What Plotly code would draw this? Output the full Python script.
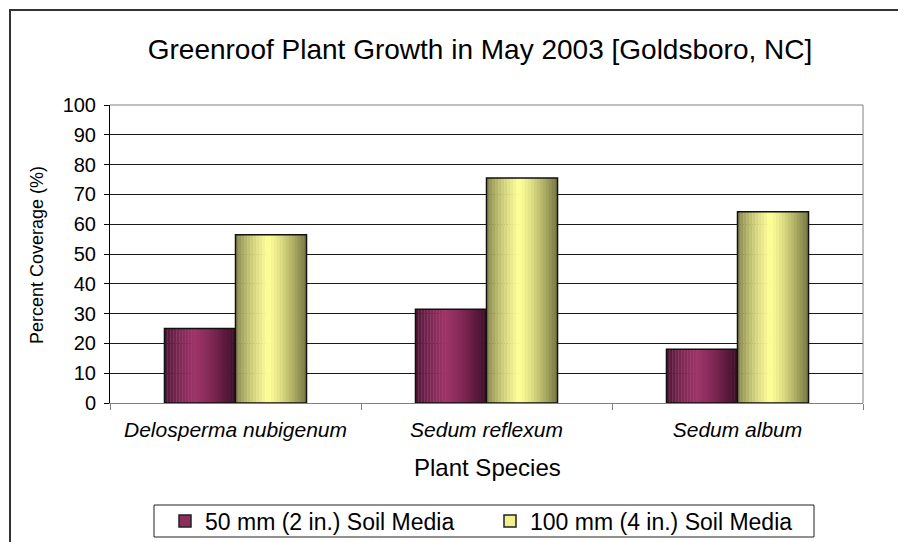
import plotly.graph_objects as go

categories = ["Delosperma nubigenum", "Sedum reflexum", "Sedum album"]
series_names = ["50 mm (2 in.) Soil Media", "100 mm (4 in.) Soil Media"]
values_50mm = [25, 31.5, 18]
values_100mm = [56.5, 75.5, 64.2]
y_ticks = list(range(0, 101, 10))

FONT = "Liberation Sans, Arial, sans-serif"

# page offset (browser body margin) -> work in reference pixel coords
OFF = 8
W, H = 906 - OFF, 542 - OFF
PL, PR, PT, PB = 110, 863, 105, 403       # plot area in reference px
L, R, T, B = PL - OFF, W - (PR - OFF), PT - OFF, H - (PB - OFF)
PW, PH = PR - PL, PB - PT

def px_x(p):
    return (p - PL) / PW

def px_y(p):
    return (PB - p) / PH

def lerp(c1, c2, t):
    return "rgb(%d,%d,%d)" % tuple(round(a + (b - a) * t) for a, b in zip(c1, c2))

def shade(dark_l, light, dark_r, peak, t):
    if t <= peak:
        u = (t / peak) ** 0.7
        return lerp(dark_l, light, u)
    u = ((t - peak) / (1 - peak)) ** 1.3
    return lerp(light, dark_r, u)

styles = [
    dict(dark_l=(70, 20, 48), light=(158, 52, 104), dark_r=(60, 14, 40), peak=0.42, mid="#8e2d5c"),
    dict(dark_l=(120, 120, 68), light=(255, 255, 153), dark_r=(116, 116, 64), peak=0.45, mid="#f0f090"),
]

bar_w = 0.283
offsets = [-bar_w, 0.0]
N = 24

fig = go.Figure()
for s, (name, vals) in enumerate(zip(series_names, [values_50mm, values_100mm])):
    st = styles[s]
    for k in range(N):
        t = (k + 0.5) / N
        fig.add_trace(go.Bar(
            x=categories, y=vals,
            offset=offsets[s] + k * bar_w / N, width=bar_w / N + 0.0015,
            marker=dict(color=shade(st["dark_l"], st["light"], st["dark_r"], st["peak"], t),
                        line=dict(width=0)),
            showlegend=False, hoverinfo="skip",
        ))
    fig.add_trace(go.Bar(
        x=categories, y=vals, offset=offsets[s], width=bar_w,
        marker=dict(color="rgba(0,0,0,0)", line=dict(color="#111111", width=1.5)),
        showlegend=False, name=name,
    ))
    fig.add_trace(go.Bar(
        x=categories, y=[None] * len(categories), name=name,
        marker=dict(color=st["mid"], line=dict(color="#222222", width=1.5)),
        showlegend=True,
    ))

fig.update_layout(
    width=W, height=H,
    margin=dict(l=L, r=R, t=T, b=B, autoexpand=False),
    paper_bgcolor="white", plot_bgcolor="white",
    barmode="overlay",
    font=dict(family=FONT, color="black", size=20),
    title=dict(text="Greenroof Plant Growth in May 2003 [Goldsboro, NC]",
               x=px_x(480), xref="paper", xanchor="center",
               y=1 - (49 - OFF) / H, yref="container", yanchor="middle",
               font=dict(family=FONT, size=28, color="black")),
    xaxis=dict(
        type="category", categoryorder="array", categoryarray=categories,
        range=[-0.5, 2.5], showgrid=False, zeroline=False,
        showline=True, linecolor="#808080", linewidth=1,
        ticks="outside", tickson="boundaries", ticklen=6, tickcolor="#808080",
        tickfont=dict(family=FONT, size=21, style="italic", color="black"),
        ticklabelstandoff=8,
    ),
    yaxis=dict(
        range=[0, 100], tickvals=y_ticks, showgrid=True, gridcolor="#1a1a1a", gridwidth=1,
        zeroline=False, showline=True, linecolor="black", linewidth=1,
        ticks="outside", ticklen=5, tickcolor="black",
        tickfont=dict(family=FONT, size=20, color="black"),
        ticklabelstandoff=4,
    ),
    legend=dict(
        orientation="h", x=px_x(165), xanchor="left", y=px_y(521), yanchor="middle",
        font=dict(family=FONT, size=23, color="black"),
        bgcolor="rgba(0,0,0,0)", borderwidth=0,
        entrywidth=280, entrywidthmode="pixels", itemwidth=30,
    ),
    annotations=[
        dict(text="Plant Species", x=px_x(487), y=px_y(467), xref="paper", yref="paper",
             xanchor="center", yanchor="middle", showarrow=False,
             font=dict(family=FONT, size=24, color="black")),
        dict(text="Percent Coverage (%)", x=px_x(37), y=px_y(255), xref="paper", yref="paper",
             xanchor="center", yanchor="middle", textangle=-90, showarrow=False,
             font=dict(family=FONT, size=18, color="black")),
    ],
    shapes=[
        dict(type="rect", xref="paper", yref="paper",
             x0=px_x(10), x1=px_x(930), y0=px_y(570), y1=px_y(10),
             line=dict(color="#333333", width=2), layer="below"),
        dict(type="line", xref="paper", yref="paper", x0=0, x1=1, y0=1, y1=1,
             line=dict(color="#808080", width=1)),
        dict(type="line", xref="paper", yref="paper", x0=1, x1=1, y0=0, y1=1,
             line=dict(color="#808080", width=1)),
        dict(type="rect", xref="paper", yref="paper",
             x0=px_x(154), x1=px_x(814), y0=px_y(537), y1=px_y(505),
             line=dict(color="#222222", width=1)),
    ],
)

fig.write_html("out.html")
